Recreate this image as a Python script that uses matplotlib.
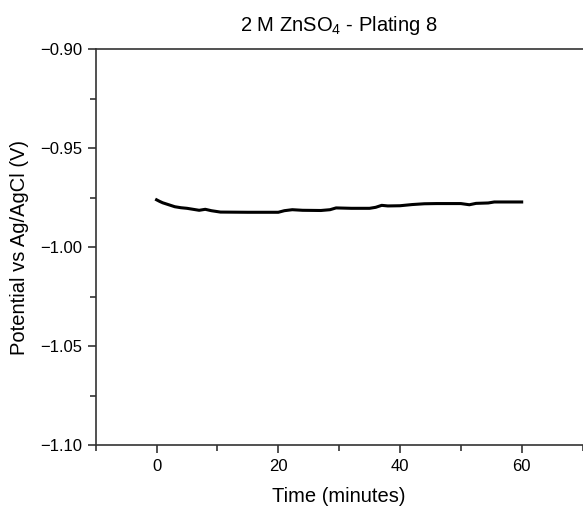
import matplotlib
matplotlib.use("Agg")
import matplotlib.pyplot as plt
from matplotlib.ticker import MultipleLocator

plt.rcParams['font.family'] = ['Liberation Sans', 'DejaVu Sans']
plt.rcParams['mathtext.fontset'] = 'custom'
plt.rcParams['mathtext.rm'] = 'Liberation Sans'

# time (minutes) and potential vs Ag/AgCl (V)
time_min = [0, 0.5, 1, 2, 3, 4, 5, 6, 7, 8, 9, 10.5, 15, 20, 21, 22.3, 24, 27,
            28.5, 29.5, 32, 35, 36, 37, 38, 40, 42, 44, 46, 50, 51.4, 52.5,
            54.5, 55.5, 60]
potential = [-0.9760, -0.9768, -0.9775, -0.9785, -0.9795, -0.9800, -0.9803,
             -0.9808, -0.9813, -0.9808, -0.9815, -0.9822, -0.9823, -0.9823,
             -0.9815, -0.9810, -0.9813, -0.9814, -0.9810, -0.9801, -0.9803,
             -0.9803, -0.9798, -0.9788, -0.9791, -0.9790, -0.9784, -0.9780,
             -0.9779, -0.9779, -0.9785, -0.9778, -0.9776, -0.9771, -0.9771]

x_ticks = [0, 20, 40, 60]
y_ticks = [-0.90, -0.95, -1.00, -1.05, -1.10]

fig = plt.figure(figsize=(5.83, 5.09), dpi=100)
ax = fig.add_axes([0.1642, 0.1251, 0.835, 0.778])

ax.plot(time_min, potential, color='black', linewidth=2.2)

ax.set_xlim(-10, 70)
ax.set_ylim(-1.10, -0.90)
ax.set_xticks(x_ticks)
ax.set_yticks(y_ticks)
ax.set_yticklabels([f"{v:.2f}".replace('-', '\u2212') for v in y_ticks])
ax.xaxis.set_minor_locator(MultipleLocator(10))
ax.yaxis.set_minor_locator(MultipleLocator(0.025))

for s in ax.spines.values():
    s.set_color('#333333')
    s.set_linewidth(1.2)
ax.spines['right'].set_visible(False)

ax.tick_params(which='major', direction='out', length=6, width=1.2,
               color='#333333', labelsize=12)
ax.tick_params(which='minor', direction='out', length=4, width=1.2,
               color='#333333')

ax.set_title('2 M ZnSO$_4$ - Plating 8', fontsize=14.5, pad=13)
ax.set_xlabel('Time (minutes)', fontsize=14.5, labelpad=10)
ax.set_ylabel('Potential vs Ag/AgCl (V)', fontsize=14.5, labelpad=8)

fig.savefig('out.png', dpi=100)
